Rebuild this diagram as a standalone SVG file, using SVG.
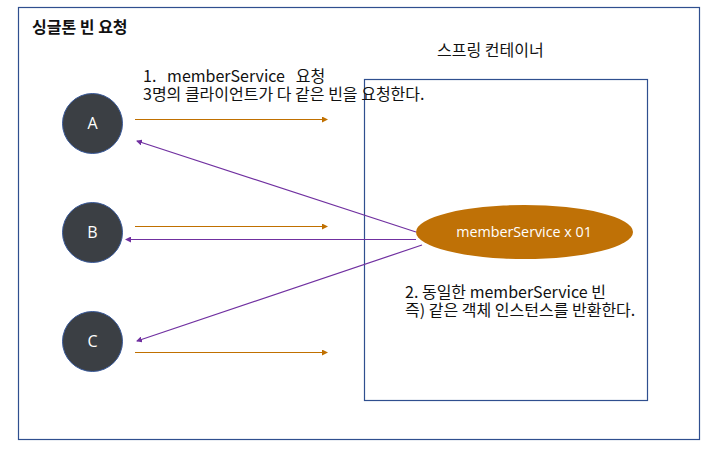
<svg xmlns="http://www.w3.org/2000/svg" width="721" height="458" viewBox="0 0 721 458">
<defs>
<style>
.frame{fill:none;stroke:#2f4f8f;stroke-width:1.2}
.client{fill:#3b3f44;stroke:#3a5a9a;stroke-width:1}
.clabel{font-family:"Open Sans","Noto Sans","Noto Sans CJK KR",sans-serif;font-size:16px;fill:#ffffff;text-anchor:middle}
.txt{font-family:"Noto Sans CJK KR","Noto Sans",sans-serif;font-size:16px;fill:#111111}
.req{stroke:#c07000;stroke-width:1.2;fill:none;marker-end:url(#ao)}
.res{stroke:#7030a0;stroke-width:1.2;fill:none;marker-end:url(#ap)}
</style>
<marker id="ao" viewBox="0 0 6 6" refX="5" refY="3" markerWidth="6" markerHeight="6" markerUnits="userSpaceOnUse" orient="auto">
<path d="M0,0 L6,3 L0,6 Z" fill="#c07000"/>
</marker>
<marker id="ap" viewBox="0 0 6 6" refX="5" refY="3" markerWidth="6" markerHeight="6" markerUnits="userSpaceOnUse" orient="auto">
<path d="M0,0 L6,3 L0,6 Z" fill="#7030a0"/>
</marker>
</defs>
<rect width="721" height="458" fill="#ffffff"/>
<g id="outer-frame">
<rect class="frame" x="18.5" y="7.5" width="681" height="432"/>
<text x="32" y="32.5" font-family="'Noto Sans CJK KR',sans-serif" font-size="16" font-weight="bold" fill="#111">싱글톤 빈 요청</text>
</g>
<g id="spring-container">
<text class="txt" x="437" y="56">스프링 컨테이너</text>
<rect class="frame" x="364.5" y="79.5" width="283" height="321"/>
</g>
<g id="connectors">
<line class="req" x1="135" y1="119.5" x2="327" y2="119.5"/>
<line class="req" x1="135" y1="226.5" x2="327" y2="226.5"/>
<line class="req" x1="135" y1="352.5" x2="327" y2="352.5"/>
<line class="res" x1="416" y1="232" x2="137" y2="141"/>
<line class="res" x1="416" y1="239.5" x2="126" y2="239.5"/>
<line class="res" x1="422" y1="245" x2="137" y2="341"/>
</g>
<g id="node-a">
<circle class="client" cx="92.5" cy="123.5" r="30"/>
<text class="clabel" x="92.5" y="129">A</text>
</g>
<g id="node-b">
<circle class="client" cx="92.5" cy="232.5" r="30"/>
<text class="clabel" x="92.5" y="238">B</text>
</g>
<g id="node-c">
<circle class="client" cx="92.5" cy="341.5" r="30"/>
<text class="clabel" x="92.5" y="347">C</text>
</g>
<g id="member-service">
<ellipse cx="524.5" cy="232" rx="108.5" ry="27" fill="#bf7106"/>
<text class="clabel" x="524" y="237" style="font-size:14.3px">memberService x 01</text>
</g>
<g id="request-label">
<text class="txt" x="143" y="82" xml:space="preserve">1.   memberService   요청</text>
<text class="txt" x="143" y="100">3명의 클라이언트가 다 같은 빈을 요청한다.</text>
</g>
<g id="response-label">
<text class="txt" x="405" y="298">2. 동일한 memberService 빈</text>
<text class="txt" x="405" y="316">즉) 같은 객체 인스턴스를 반환한다.</text>
</g>
</svg>
